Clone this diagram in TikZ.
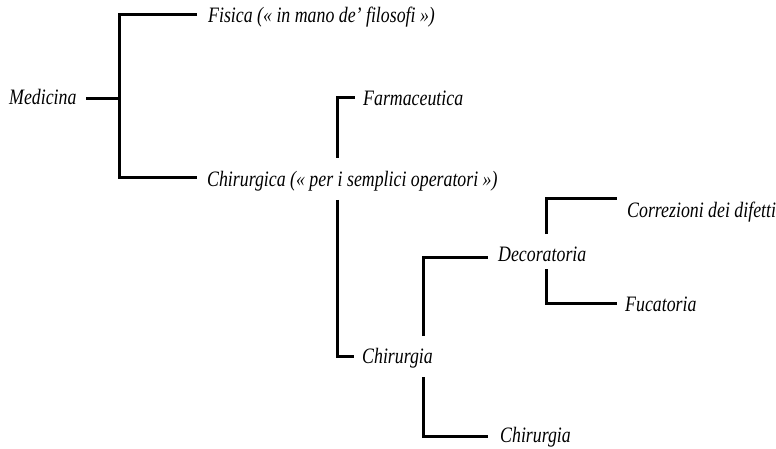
\documentclass[tikz,border=0pt]{standalone}
\usepackage{fontspec}
\setmainfont{Liberation Serif}[FakeStretch=0.81]
\begin{document}
\begin{tikzpicture}[x=1pt,y=-1pt,
  lbl/.style={anchor=base west,inner sep=0pt,font=\fontsize{22}{26}\selectfont\itshape},
  br/.style={line width=3pt,line join=miter,line cap=butt}]
\useasboundingbox (0,0) rectangle (776,449);
% texts
\node[lbl] (med) at (9,105) {Medicina};
\node[lbl] (fis) at (208,23) {Fisica (« in mano de’ filosofi »)};
\node[lbl] (chirca) at (207,186) {Chirurgica (« per i semplici operatori »)};
\node[lbl] (farm) at (363,106) {Farmaceutica};
\node[lbl] (chir1) at (362,363) {Chirurgia};
\node[lbl] (deco) at (498,261) {Decoratoria};
\node[lbl] (chir2) at (500,442) {Chirurgia};
\node[lbl] (corr) at (627,218) {Correzioni dei difetti};
\node[lbl] (fuca) at (625,311) {Fucatoria};
% connector points
\coordinate (medR) at (86,99);
\coordinate (j1) at (119,99);
\coordinate (j1t) at (119,15);
\coordinate (j1b) at (119,178);
\coordinate (fisL) at (197,15);
\coordinate (chircaL) at (197,178);
\coordinate (f0) at (337,158);
\coordinate (farmL) at (355,98);
\coordinate (c0) at (337,200);
\coordinate (chir1L) at (354,356);
\coordinate (d0) at (423,336);
\coordinate (decoL) at (488,257);
\coordinate (e0) at (423,377);
\coordinate (chir2L) at (488,436);
\coordinate (g0) at (546,234);
\coordinate (corrL) at (617,199);
\coordinate (h0) at (546,269);
\coordinate (fucaL) at (617,303);
% connectors
\draw[br] (medR) -- (j1);
\draw[br] (fisL) -| (j1t) -- (j1b) -- (chircaL);
\draw[br] (f0) |- (farmL);
\draw[br] (c0) |- (chir1L);
\draw[br] (d0) |- (decoL);
\draw[br] (e0) |- (chir2L);
\draw[br] (g0) |- (corrL);
\draw[br] (h0) |- (fucaL);
\end{tikzpicture}
\end{document}
